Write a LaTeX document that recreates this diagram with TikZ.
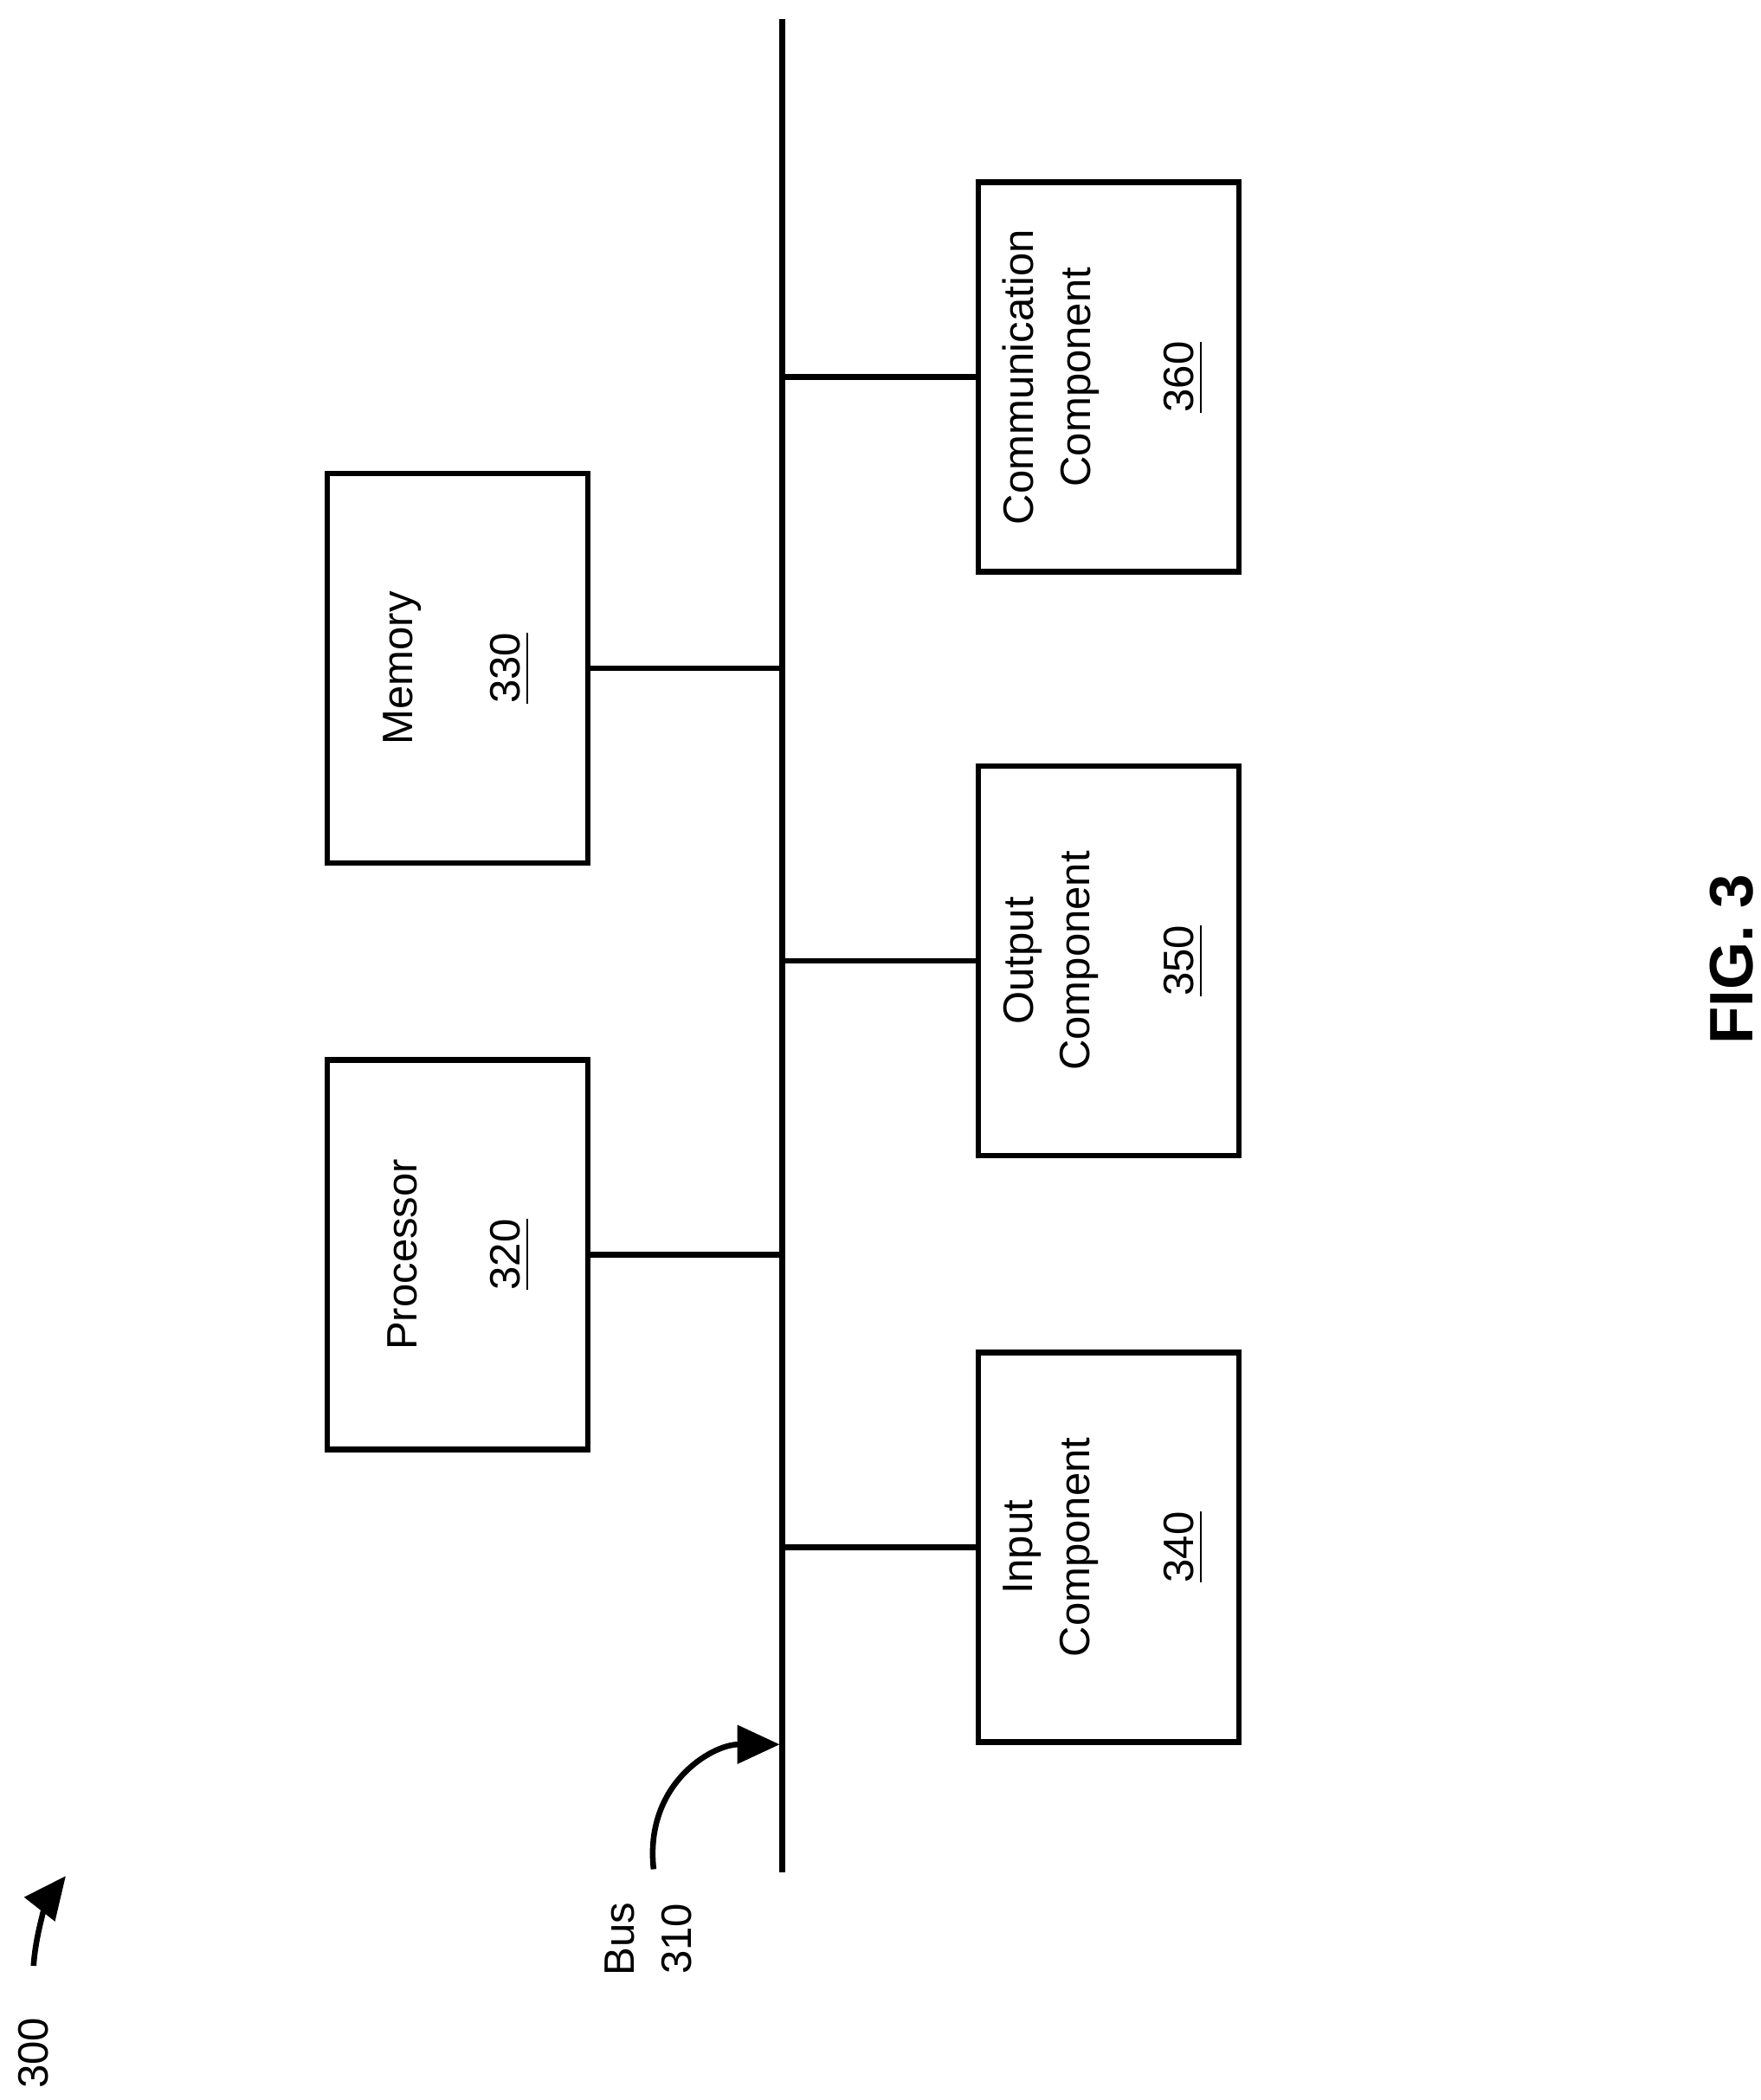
\documentclass[tikz,border=0pt]{standalone}
\usepackage{fontspec}
\setmainfont{Liberation Sans}
\usetikzlibrary{arrows.meta}
\begin{document}
\begin{tikzpicture}[x=0.01cm,y=-0.01cm,line width=1.2pt,
  box/.style={draw,minimum width=2.9cm,minimum height=1.94cm,rotate=90,inner sep=0},
  lbl/.style={rotate=90,align=center,font=\fontsize{9}{12}\selectfont},
  arr/.style={-{Triangle[length=9pt,width=8pt]}}]
\useasboundingbox (0,0) rectangle (1312,1565);
\coordinate (bt) at (583,14); \coordinate (bb) at (583,1395);
\draw (bt) -- (bb);
\node[box] (p) at (341,935) {};
\node[box] (m) at (341,498) {};
\node[box] (i) at (826,1153) {};
\node[box] (o) at (826,716) {};
\node[box] (c) at (826,281) {};
\node[lbl] at (300,935) {Processor};
\node[lbl] at (380,935) {\underline{320}};
\node[lbl] at (300,498) {Memory};
\node[lbl] at (380,498) {\underline{330}};
\node[lbl] at (783,1153) {Input\\Component};
\node[lbl] at (882,1153) {\underline{340}};
\node[lbl] at (783,716) {Output\\Component};
\node[lbl] at (882,716) {\underline{350}};
\node[lbl] at (783,281) {Communication\\Component};
\node[lbl] at (882,281) {\underline{360}};
\coordinate (jp) at (583,935); \coordinate (jm) at (583,498);
\coordinate (ji) at (583,1153); \coordinate (jo) at (583,716); \coordinate (jc) at (583,281);
\draw (p.south) -- (jp); \draw (m.south) -- (jm);
\draw (ji) -- (i.north); \draw (jo) -- (o.north); \draw (jc) -- (c.north);
\node[lbl] (bus) at (483,1445) {Bus\\310};
\coordinate (bp) at (581,1300);
\draw[arr] (487,1393) .. controls (480,1330) and (530,1300) .. (bp);
\node[lbl] (n300) at (25,1530) {300};
\draw[arr] (25,1465) .. controls (27,1435) and (38,1412) .. (49,1398);
\node[rotate=90,font=\bfseries\fontsize{13}{15}\selectfont] at (1290,715) {FIG. 3};
\end{tikzpicture}
\end{document}
